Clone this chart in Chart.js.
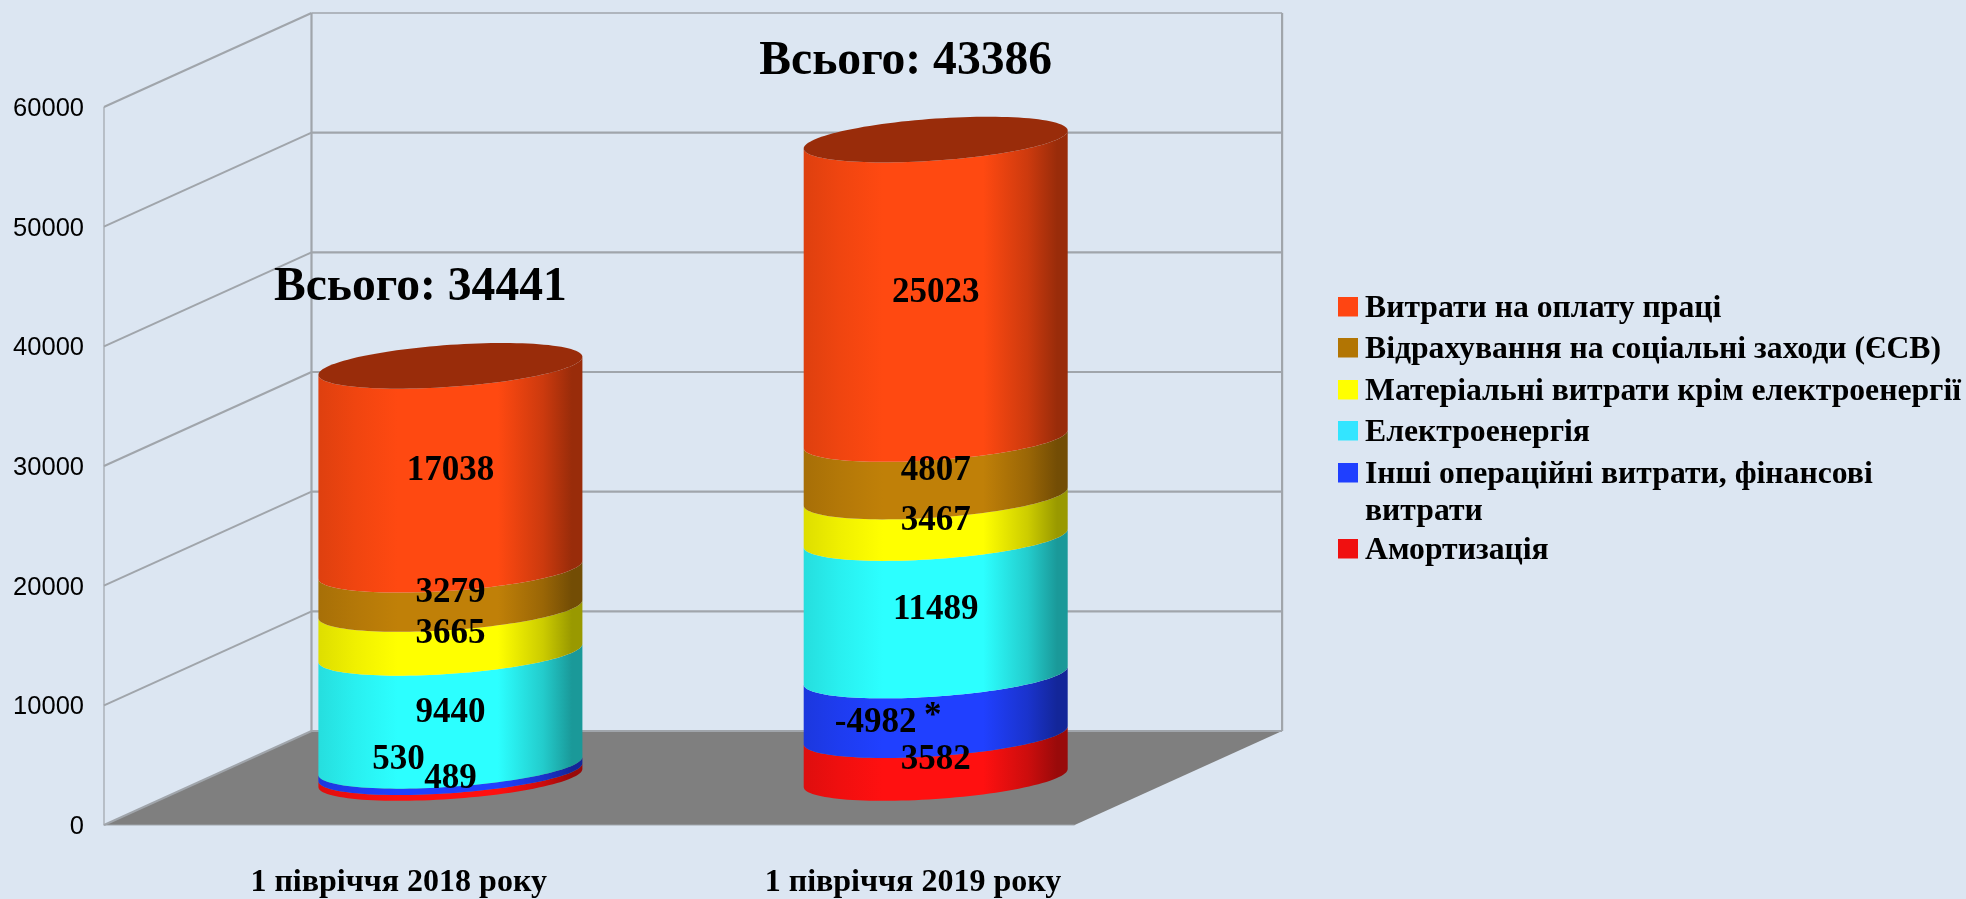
<!DOCTYPE html>
<html>
<head>
<meta charset="utf-8">
<title>Витрати</title>
<style>
  html, body { margin: 0; padding: 0; background: #dce6f2; overflow: hidden; }
  canvas { display: block; }
</style>
<script src="https://cdn.jsdelivr.net/npm/chart.js@4/dist/chart.umd.min.js"></script>
</head>
<body>
<canvas id="costs" width="1966" height="899"></canvas>
<script>
const categories = ['1 півріччя 2018 року', '1 півріччя 2019 року'];
const yTicks = [0, 10000, 20000, 30000, 40000, 50000, 60000];
const totals = [34441, 43386];

// bottom of the stack first
const amortization = [489, 3582];
const otherCosts = [530, -4982];
const electricity = [9440, 11489];
const materials = [3665, 3467];
const socialCosts = [3279, 4807];
const wages = [17038, 25023];

const seriesNames = [
  'Амортизація',
  'Інші операційні витрати, фінансові витрати',
  'Електроенергія',
  'Матеріальні витрати крім електроенергії',
  'Відрахування на соціальні заходи (ЄСВ)',
  'Витрати на оплату праці'
];
const seriesValues = [amortization, otherCosts, electricity, materials, socialCosts, wages];
const seriesColors = ['#ff1010', '#2040ff', '#2cffff', '#ffff00', '#c08008', '#ff4911'];
const legendColors = ['#f01010', '#1f3fff', '#33e5ff', '#ffff00', '#b27503', '#ff4512'];

const SERIF = '"Liberation Serif", "Times New Roman", serif';
const DEPTH_X = 207.5;
const DEPTH_Y = -94;
const LINE = '#a0a5ab';

function shade(hex, f) {
  const n = parseInt(hex.slice(1), 16);
  return 'rgb(' + Math.round((n >> 16) * f) + ',' + Math.round(((n >> 8) & 255) * f) + ',' + Math.round((n & 255) * f) + ')';
}

// the tilted ring of the cylinder, t=0 is the right end, t=PI the left end
function ringPoint(cx, cy, a, t) {
  const tilt = -9, b = 21;
  return [cx + a * Math.cos(t), cy + tilt * Math.cos(t) + b * Math.sin(t)];
}

function drawSegment(ctx, bar, color, isTop) {
  const a = bar.width / 2;
  const cx = bar.x + DEPTH_X / 2;
  const top = bar.y + DEPTH_Y / 2;
  const bottom = bar.base + DEPTH_Y / 2;
  const grad = ctx.createLinearGradient(cx - a, 0, cx + a, 0);
  [[0, .87], [.14, .94], [.3, 1], [.68, 1], [.85, .8], [.96, .6], [1, .6]].forEach(s => {
    grad.addColorStop(s[0], shade(color, s[1]));
  });
  ctx.fillStyle = grad;
  ctx.beginPath();
  for (let i = 0; i <= 60; i++) {
    const p = ringPoint(cx, bottom, a, Math.PI - Math.PI * i / 60);
    ctx.lineTo(p[0], p[1]);
  }
  for (let i = 0; i <= 60; i++) {
    const p = ringPoint(cx, top, a, Math.PI * i / 60);
    ctx.lineTo(p[0], p[1]);
  }
  ctx.closePath();
  ctx.fill();
  if (isTop) {
    ctx.fillStyle = shade(color, .6);
    ctx.beginPath();
    for (let i = 0; i < 120; i++) {
      const p = ringPoint(cx, top, a, Math.PI * i / 60);
      ctx.lineTo(p[0], p[1]);
    }
    ctx.closePath();
    ctx.fill();
  }
}

const cylinders = {
  id: 'cylinders',
  beforeDatasetsDraw(chart) {
    const ctx = chart.ctx;
    const y = chart.scales.y;
    const area = chart.chartArea;
    const zero = y.getPixelForValue(0);
    ctx.save();
    // floor
    ctx.fillStyle = '#7f7f7f';
    ctx.beginPath();
    ctx.moveTo(area.left, zero);
    ctx.lineTo(area.left + DEPTH_X, zero + DEPTH_Y);
    ctx.lineTo(area.right + DEPTH_X, zero + DEPTH_Y);
    ctx.lineTo(area.right, zero);
    ctx.closePath();
    ctx.fill();
    // walls
    ctx.strokeStyle = LINE;
    yTicks.forEach(v => {
      const py = y.getPixelForValue(v);
      ctx.lineWidth = 2;
      ctx.beginPath();
      ctx.moveTo(area.left, py);
      ctx.lineTo(area.left + DEPTH_X, py + DEPTH_Y);
      ctx.stroke();
      ctx.lineWidth = v === 60000 ? 1.5 : 2.2;
      ctx.beginPath();
      ctx.moveTo(area.left + DEPTH_X, py + DEPTH_Y);
      ctx.lineTo(area.right + DEPTH_X, py + DEPTH_Y);
      ctx.stroke();
    });
    ctx.lineWidth = 2.2;
    ctx.beginPath();
    ctx.moveTo(area.left + DEPTH_X, y.getPixelForValue(60000) + DEPTH_Y);
    ctx.lineTo(area.left + DEPTH_X, zero + DEPTH_Y);
    ctx.moveTo(area.right + DEPTH_X, y.getPixelForValue(60000) + DEPTH_Y);
    ctx.lineTo(area.right + DEPTH_X, zero + DEPTH_Y);
    ctx.stroke();
    ctx.lineWidth = 1.2;
    ctx.beginPath();
    ctx.moveTo(area.left, y.getPixelForValue(60000));
    ctx.lineTo(area.left, zero);
    ctx.lineTo(area.right, zero);
    ctx.stroke();
    ctx.restore();
  },
  beforeDatasetDraw() {
    return false;
  },
  afterDatasetsDraw(chart) {
    const ctx = chart.ctx;
    ctx.save();
    seriesValues.forEach((vals, i) => {
      chart.getDatasetMeta(i).data.forEach(bar => {
        drawSegment(ctx, bar, seriesColors[i], i === seriesValues.length - 1);
      });
    });

    ctx.fillStyle = '#000';
    ctx.textAlign = 'center';
    ctx.textBaseline = 'middle';
    ctx.font = 'bold 35px ' + SERIF;
    seriesValues.forEach((vals, i) => {
      chart.getDatasetMeta(i).data.forEach((bar, j) => {
        let dx = 0, dy = 3.5;
        // these two sit off-centre in the reference
        if (vals[j] === 530) { dx = -52; dy = -9; }
        if (vals[j] === -4982) { dx = -60; dy = 18; }
        const px = bar.x + DEPTH_X / 2 + dx;
        const py = (bar.y + bar.base) / 2 + DEPTH_Y / 2 + dy;
        ctx.fillText(String(vals[j]), px, py);
        if (vals[j] < 0) ctx.fillText('*', px + 57, py - 6);
      });
    });

    // totals above the columns
    ctx.font = 'bold 47.6px ' + SERIF;
    chart.getDatasetMeta(seriesValues.length - 1).data.forEach((bar, j) => {
      ctx.fillText('Всього: ' + totals[j], bar.x + DEPTH_X / 2 - 30, bar.y + DEPTH_Y / 2 - 78);
    });

    // category labels
    ctx.font = 'bold 32px ' + SERIF;
    const x = chart.scales.x;
    const labelShift = [52, 81];
    categories.forEach((c, j) => {
      ctx.fillText(c, x.getPixelForValue(j) + labelShift[j], 883);
    });

    // legend, top row first
    const rows = [
      [5, 297, 'Витрати на оплату праці'],
      [4, 338, 'Відрахування на соціальні заходи (ЄСВ)'],
      [3, 380, 'Матеріальні витрати крім електроенергії'],
      [2, 421, 'Електроенергія'],
      [1, 463, 'Інші операційні витрати, фінансові', 'витрати'],
      [0, 539, 'Амортизація']
    ];
    ctx.textAlign = 'left';
    ctx.font = 'bold 31.7px ' + SERIF;
    rows.forEach(r => {
      ctx.fillStyle = legendColors[r[0]];
      ctx.fillRect(1338, r[1], 20, 19.5);
      ctx.fillStyle = '#000';
      ctx.fillText(r[2], 1365, r[1] + 12);
      if (r[3]) ctx.fillText(r[3], 1365, r[1] + 49);
    });
    ctx.restore();
  }
};

new Chart(document.getElementById('costs'), {
  type: 'bar',
  data: {
    labels: categories,
    datasets: seriesNames.map((name, i) => ({
      label: name,
      // the negative item is still stacked by its size in the reference
      data: seriesValues[i].map(Math.abs),
      backgroundColor: seriesColors[i]
    }))
  },
  options: {
    responsive: false,
    animation: false,
    events: [],
    layout: { padding: { left: 0, top: 107, right: 1966 - 1074.6, bottom: 74 } },
    datasets: { bar: { categoryPercentage: 1, barPercentage: 0.544 } },
    plugins: { legend: { display: false }, title: { display: false }, tooltip: { enabled: false } },
    scales: {
      x: {
        stacked: true,
        grid: { display: false },
        border: { display: false },
        ticks: { display: false },
        afterFit(scale) { scale.height = 0; }
      },
      y: {
        stacked: true,
        min: 0,
        max: 60000,
        afterBuildTicks(scale) { scale.ticks = yTicks.map(v => ({ value: v })); },
        grid: { display: false },
        border: { display: false },
        ticks: {
          padding: 12,
          labelOffset: 2,
          color: '#000',
          font: { family: '"Liberation Sans", Arial, sans-serif', size: 25.5 },
          callback: v => String(v)
        },
        afterFit(scale) { scale.width = 104; }
      }
    }
  },
  plugins: [cylinders]
});
</script>
</body>
</html>
